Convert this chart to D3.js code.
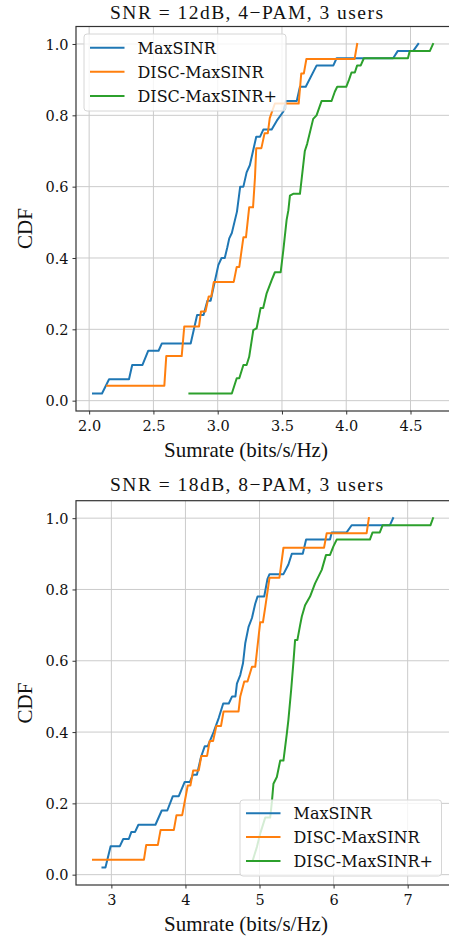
<!DOCTYPE html>
<html><head><meta charset="utf-8">
<script src="https://cdn.jsdelivr.net/npm/d3@7"></script>
<style>html,body{margin:0;padding:0;background:#fff;overflow:hidden}</style>
</head><body><svg id="c" width="449" height="938"></svg>
<script>
// ---------- data ----------
const seriesNames = ["MaxSINR", "DISC-MaxSINR", "DISC-MaxSINR+"];
const seriesColors = ["#1f77b4", "#ff7f0e", "#2ca02c"];
const yTickValues = [0, 0.2, 0.4, 0.6, 0.8, 1.0];
const topXTicks = [2.0, 2.5, 3.0, 3.5, 4.0, 4.5];
const bottomXTicks = [3, 4, 5, 6, 7];
const topTitle = "SNR = 12dB, 4\u2212PAM, 3 users";
const bottomTitle = "SNR = 18dB, 8\u2212PAM, 3 users";
const xLabel = "Sumrate (bits/s/Hz)";
const yLabel = "CDF";

const top_MaxSINR = [[2.03,0.02],[2.10,0.02],[2.155,0.06],[2.31,0.06],[2.335,0.10],[2.415,0.10],[2.46,0.14],[2.54,0.14],[2.565,0.16],[2.79,0.16],[2.84,0.24],[2.89,0.24],[2.92,0.28],[2.945,0.28],[3.005,0.38],[3.03,0.40],[3.055,0.40],[3.075,0.43],[3.09,0.455],[3.11,0.47],[3.15,0.53],[3.175,0.60],[3.20,0.60],[3.225,0.64],[3.25,0.66],[3.30,0.74],[3.33,0.74],[3.355,0.76],[3.42,0.76],[3.46,0.785],[3.50,0.805],[3.51,0.81],[3.53,0.84],[3.615,0.84],[3.64,0.88],[3.685,0.88],[3.77,0.94],[3.90,0.94],[3.925,0.96],[4.365,0.96],[4.40,0.98],[4.52,0.98],[4.56,1.0]];
const top_DISC = [[2.14,0.042],[2.585,0.042],[2.60,0.125],[2.72,0.125],[2.74,0.208],[2.855,0.208],[2.87,0.25],[2.905,0.25],[2.93,0.292],[2.95,0.292],[2.97,0.333],[3.125,0.333],[3.148,0.375],[3.168,0.375],[3.20,0.458],[3.22,0.458],[3.245,0.542],[3.275,0.542],[3.29,0.625],[3.30,0.708],[3.34,0.708],[3.365,0.75],[3.39,0.75],[3.405,0.792],[3.445,0.833],[3.63,0.833],[3.65,0.917],[3.67,0.917],[3.69,0.958],[4.065,0.958],[4.085,1.0]];
const top_DISCplus = [[2.78,0.02],[3.11,0.02],[3.148,0.063],[3.168,0.063],[3.20,0.10],[3.225,0.10],[3.245,0.123],[3.277,0.198],[3.303,0.203],[3.334,0.26],[3.354,0.26],[3.38,0.30],[3.42,0.338],[3.445,0.36],[3.49,0.36],[3.51,0.42],[3.536,0.506],[3.55,0.534],[3.562,0.575],[3.587,0.58],[3.64,0.58],[3.678,0.70],[3.696,0.72],[3.743,0.79],[3.769,0.80],[3.808,0.84],[3.886,0.84],[3.911,0.866],[3.93,0.88],[4.00,0.88],[4.022,0.90],[4.041,0.92],[4.067,0.92],[4.085,0.94],[4.113,0.94],[4.137,0.96],[4.48,0.96],[4.494,0.98],[4.65,0.98],[4.675,1.0]];

const bot_MaxSINR = [[2.88,0.02],[2.92,0.02],[2.99,0.08],[3.115,0.08],[3.16,0.10],[3.235,0.10],[3.27,0.12],[3.32,0.12],[3.365,0.14],[3.595,0.14],[3.68,0.18],[3.755,0.18],[3.83,0.22],[3.91,0.22],[3.99,0.26],[4.06,0.26],[4.10,0.28],[4.155,0.28],[4.21,0.33],[4.26,0.36],[4.30,0.36],[4.38,0.40],[4.45,0.44],[4.51,0.48],[4.585,0.48],[4.63,0.50],[4.675,0.50],[4.695,0.536],[4.74,0.56],[4.777,0.593],[4.808,0.65],[4.852,0.695],[4.898,0.72],[4.942,0.76],[4.973,0.78],[5.063,0.78],[5.108,0.83],[5.135,0.843],[5.323,0.843],[5.39,0.87],[5.436,0.90],[5.584,0.90],[5.629,0.94],[5.952,0.94],[5.974,0.96],[6.176,0.96],[6.244,0.98],[6.759,0.98],[6.803,1.0]];
const bot_DISC = [[2.752,0.042],[3.44,0.042],[3.47,0.083],[3.627,0.083],[3.664,0.125],[3.843,0.125],[3.879,0.167],[3.956,0.167],[4.031,0.25],[4.067,0.25],[4.104,0.292],[4.179,0.292],[4.215,0.333],[4.292,0.333],[4.327,0.375],[4.373,0.375],[4.417,0.417],[4.48,0.417],[4.515,0.458],[4.717,0.458],[4.74,0.50],[4.794,0.542],[4.838,0.542],[4.898,0.583],[4.942,0.583],[5.009,0.708],[5.046,0.708],[5.077,0.75],[5.135,0.833],[5.269,0.833],[5.323,0.917],[5.871,0.917],[5.907,0.958],[6.446,0.958],[6.476,1.0]];
const bot_DISCplus = [[4.911,0.042],[4.965,0.078],[5.009,0.115],[5.077,0.16],[5.144,0.16],[5.167,0.204],[5.188,0.255],[5.234,0.274],[5.279,0.32],[5.323,0.32],[5.369,0.396],[5.39,0.434],[5.427,0.518],[5.458,0.597],[5.48,0.658],[5.511,0.658],[5.548,0.70],[5.571,0.724],[5.615,0.756],[5.682,0.78],[5.75,0.817],[5.84,0.855],[5.898,0.897],[5.952,0.897],[5.996,0.92],[6.042,0.94],[6.49,0.94],[6.526,0.96],[6.624,0.96],[6.661,0.98],[7.307,0.98],[7.342,1.0]];

// ---------- layout ----------
const svg = d3.select("#c");
const TEXT_SERIF = "'Liberation Serif','Times New Roman',serif";
const TICK_SERIF = "'DejaVu Serif',serif";
const AX_L = 76, AX_R = 450;

const panels = [
  { id: "p1", top: 26.5, bottom: 411, series: [top_MaxSINR, top_DISC, top_DISCplus],
    xTicks: topXTicks, fmt: d3.format(".1f"), title: topTitle, titleY: 18.5,
    xLabelY: 456.5, yLabelCY: 228.5,
    legend: { x: 84, y: 34, w: 202, h: 77, hx1: 90, hx2: 124.5, tx: 137.5, rows: [47.7, 71.8, 96] } },
  { id: "p2", top: 500.7, bottom: 885, series: [bot_MaxSINR, bot_DISC, bot_DISCplus],
    xTicks: bottomXTicks, fmt: d3.format("d"), title: bottomTitle, titleY: 490.5,
    xLabelY: 930.5, yLabelCY: 703,
    legend: { x: 240, y: 800, w: 201.5, h: 76, hx1: 246, hx2: 280.5, tx: 293.5, rows: [813.3, 837, 861] } }
];

panels.forEach(p => {
  const all = p.series.flat();
  const xe = d3.extent(all, d => d[0]), ye = d3.extent(all, d => d[1]);
  const xp = (xe[1] - xe[0]) * 0.05, yp = (ye[1] - ye[0]) * 0.05;
  const x = d3.scaleLinear().domain([xe[0] - xp, xe[1] + xp]).range([AX_L, AX_R]);
  const y = d3.scaleLinear().domain([ye[0] - yp, ye[1] + yp]).range([p.bottom, p.top]);

  const g = svg.append("g");
  g.append("defs").append("clipPath").attr("id", "clip" + p.id)
    .append("rect").attr("x", AX_L).attr("y", p.top).attr("width", AX_R - AX_L).attr("height", p.bottom - p.top);

  // grid
  g.append("g").selectAll("line").data(p.xTicks).join("line")
    .attr("x1", d => x(d)).attr("x2", d => x(d)).attr("y1", p.top).attr("y2", p.bottom)
    .attr("stroke", "#cbcbcb").attr("stroke-width", 1);
  g.append("g").selectAll("line").data(yTickValues).join("line")
    .attr("x1", AX_L).attr("x2", AX_R).attr("y1", d => y(d)).attr("y2", d => y(d))
    .attr("stroke", "#cbcbcb").attr("stroke-width", 1);

  // series
  const line = d3.line().x(d => x(d[0])).y(d => y(d[1]));
  const lg = g.append("g").attr("clip-path", `url(#clip${p.id})`);
  p.series.forEach((s, i) => {
    lg.append("path").attr("d", line(s)).attr("fill", "none")
      .attr("stroke", seriesColors[i]).attr("stroke-width", 2)
      .attr("stroke-linejoin", "round").attr("stroke-linecap", "square");
  });

  // axes
  const xa = g.append("g").attr("transform", `translate(0,${p.bottom})`)
    .call(d3.axisBottom(x).tickValues(p.xTicks).tickFormat(p.fmt).tickSize(3.5).tickPadding(5));
  const ya = g.append("g").attr("transform", `translate(${AX_L},0)`)
    .call(d3.axisLeft(y).tickValues(yTickValues).tickFormat(d3.format(".1f")).tickSize(3.5).tickPadding(4));
  [xa, ya].forEach(a => {
    a.select(".domain").remove();
    a.selectAll(".tick line").attr("stroke", "#333").attr("stroke-width", 1);
    a.selectAll(".tick text").attr("fill", "#111").style("font-family", TICK_SERIF).style("font-size", "14.5px");
  });
  xa.selectAll(".tick text").attr("dy", null).attr("y", 0).attr("dominant-baseline", "auto")
    .attr("transform", "translate(0,19.5)");
  ya.selectAll(".tick text").attr("dy", "0.36em");

  // spines
  g.append("rect").attr("x", AX_L).attr("y", p.top).attr("width", AX_R - AX_L).attr("height", p.bottom - p.top)
    .attr("fill", "none").attr("stroke", "#333").attr("stroke-width", 1.2);

  // title
  g.append("text").attr("x", 110).attr("y", p.titleY).style("font-family", TEXT_SERIF)
    .style("font-size", "19.5px").attr("fill", "#111")
    .attr("textLength", 273).attr("lengthAdjust", "spacing").text(p.title);

  // labels
  g.append("text").attr("x", 246).attr("y", p.xLabelY).attr("text-anchor", "middle")
    .style("font-family", TEXT_SERIF).style("font-size", "21px").attr("fill", "#111").text(xLabel);
  g.append("text").attr("transform", `translate(31.5,${p.yLabelCY}) rotate(-90)`).attr("text-anchor", "middle")
    .style("font-family", TEXT_SERIF).style("font-size", "21px").attr("fill", "#111").text(yLabel);

  // legend
  const L = p.legend;
  const lgd = g.append("g");
  lgd.append("rect").attr("x", L.x).attr("y", L.y).attr("width", L.w).attr("height", L.h)
    .attr("rx", 3).attr("fill", "#fff").attr("fill-opacity", 0.8).attr("stroke", "#d6d6d6").attr("stroke-width", 1);
  seriesNames.forEach((n, i) => {
    lgd.append("line").attr("x1", L.hx1).attr("x2", L.hx2).attr("y1", L.rows[i]).attr("y2", L.rows[i])
      .attr("stroke", seriesColors[i]).attr("stroke-width", 2);
    lgd.append("text").attr("x", L.tx).attr("y", L.rows[i] + 5.8).style("font-family", TICK_SERIF)
      .style("font-size", "16px").attr("fill", "#111").text(n);
  });
});
</script></body></html>
